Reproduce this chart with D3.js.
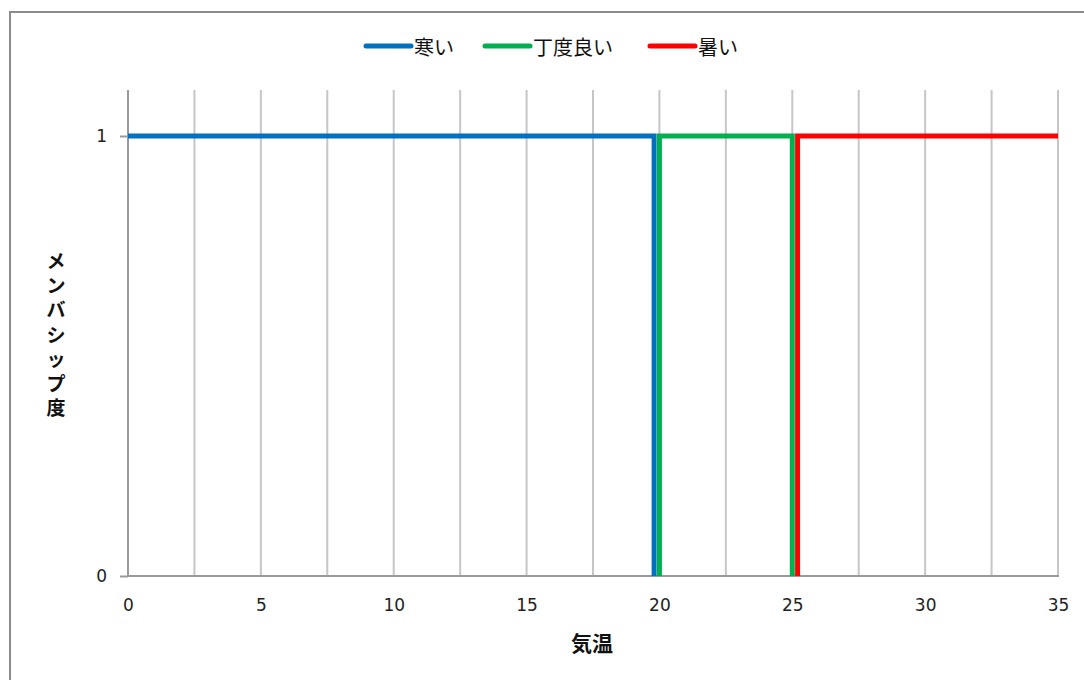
<!DOCTYPE html>
<html>
<head>
<meta charset="utf-8">
<script src="https://cdn.jsdelivr.net/npm/d3@7"></script>
<style>
  html, body { margin: 0; padding: 0; background: #fff; }
  svg { display: block; }
  text { font-family: "Noto Sans CJK JP", "DejaVu Sans", sans-serif; }
  .tick text { font-family: "DejaVu Sans", sans-serif; }
</style>
</head>
<body>
<svg id="chart" width="1084" height="680"></svg>
<script>
// Membership functions (temperature -> degree) for three fuzzy sets
const seriesNames = ["寒い", "丁度良い", "暑い"];
const seriesColors = ["#0070c0", "#00b050", "#ff0000"];
const coldPoints = [[0, 1], [19.8, 1], [19.8, 0]];
const comfyPoints = [[20, 0], [20, 1], [25, 1], [25, 0]];
const hotPoints = [[25.2, 0], [25.2, 1], [35, 1]];
const xTickLabels = [0, 5, 10, 15, 20, 25, 30, 35];
const xGridValues = [2.5, 5, 7.5, 10, 12.5, 15, 17.5, 20, 22.5, 25, 27.5, 30, 32.5, 35];
const yTickLabels = [0, 1];
const xTitle = "気温";
const yTitle = "メンバシップ度";

const svg = d3.select("#chart");
const margin = { left: 128, right: 1058, top: 90, bottom: 576 };

const x = d3.scaleLinear().domain([0, 35]).range([margin.left, margin.right]);
const y = d3.scaleLinear().domain([0, 1]).range([576, 136]);

// outer frame
svg.append("rect")
  .attr("x", 10).attr("y", 12)
  .attr("width", 1090).attr("height", 700)
  .attr("fill", "none").attr("stroke", "#8c8c8c").attr("stroke-width", 2);

// vertical gridlines
svg.append("g").selectAll("line").data(xGridValues).join("line")
  .attr("x1", d => x(d)).attr("x2", d => x(d))
  .attr("y1", margin.top).attr("y2", margin.bottom)
  .attr("stroke", "#c6c6c6").attr("stroke-width", 2);

// y axis
const yAxis = d3.axisLeft(y).tickValues(yTickLabels).tickSize(8).tickPadding(13).tickFormat(d3.format("d"));
const gy = svg.append("g").attr("transform", `translate(${margin.left},0)`).call(yAxis);
gy.select(".domain").remove();
gy.selectAll(".tick line").attr("stroke", "#9a9a9a").attr("stroke-width", 2);
gy.selectAll(".tick text").style("font-size", "17px").attr("fill", "#222");
gy.append("line").attr("x1", 0).attr("x2", 0).attr("y1", margin.top).attr("y2", margin.bottom)
  .attr("stroke", "#9a9a9a").attr("stroke-width", 2);

// x axis
const xAxis = d3.axisBottom(x).tickValues(xTickLabels).tickSize(0).tickPadding(23).tickFormat(d3.format("d"));
const gx = svg.append("g").attr("transform", `translate(0,${margin.bottom})`).call(xAxis);
gx.select(".domain").remove();
gx.selectAll(".tick text").style("font-size", "17px").attr("fill", "#222");
gx.append("line").attr("x1", margin.left - 1).attr("x2", margin.right + 1).attr("y1", 0).attr("y2", 0)
  .attr("stroke", "#9a9a9a").attr("stroke-width", 2);

// series lines
const line = d3.line().x(d => x(d[0])).y(d => y(d[1]));
[coldPoints, comfyPoints, hotPoints].forEach((pts, i) => {
  svg.append("path")
    .attr("d", line(pts))
    .attr("fill", "none")
    .attr("stroke", seriesColors[i])
    .attr("stroke-width", 5)
    .attr("stroke-linejoin", "miter")
    .attr("stroke-linecap", "butt");
});

// legend
const legendItems = [
  { name: seriesNames[0], color: seriesColors[0], x: 366 },
  { name: seriesNames[1], color: seriesColors[1], x: 485 },
  { name: seriesNames[2], color: seriesColors[2], x: 650 }
];
const lg = svg.append("g");
legendItems.forEach(it => {
  lg.append("line")
    .attr("x1", it.x).attr("x2", it.x + 45)
    .attr("y1", 46).attr("y2", 46)
    .attr("stroke", it.color).attr("stroke-width", 5).attr("stroke-linecap", "round");
  lg.append("text")
    .attr("x", it.x + 48).attr("y", 46)
    .attr("dominant-baseline", "central")
    .attr("font-size", 20).attr("fill", "#111")
    .text(it.name);
});

// x axis title
svg.append("text")
  .attr("x", 592).attr("y", 642)
  .attr("text-anchor", "middle").attr("dominant-baseline", "central")
  .attr("font-size", 21).attr("font-weight", "bold").attr("fill", "#111")
  .text(xTitle);

// y axis title, stacked vertically one character per row
const yt = svg.append("text")
  .attr("font-size", 19).attr("font-weight", "bold").attr("fill", "#111")
  .attr("text-anchor", "middle");
Array.from(yTitle).forEach((ch, i) => {
  yt.append("tspan")
    .attr("x", 56)
    .attr("y", 268 + i * 24.5)
    .text(ch);
});
</script>
</body>
</html>
